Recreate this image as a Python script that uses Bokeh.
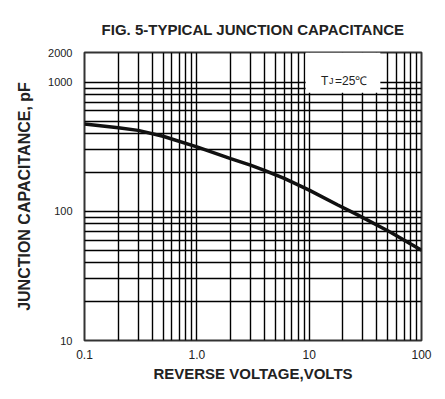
from bokeh.plotting import figure
from bokeh.models import FixedTicker, Label, BoxAnnotation, Range1d
from bokeh.embed import file_html
from bokeh.resources import INLINE

# data
voltage = [0.1, 0.2, 0.3, 0.5, 1.0, 2.0, 3.0, 4.0, 6.0, 10, 18, 27, 53, 100]
capacitance = [475, 445, 424, 382, 316, 256, 228, 208, 180, 146, 112, 94, 69, 50]

x_ticks = [0.1, 1, 10, 100]
x_tick_labels = ["0.1", "1.0", "10", "100"]
x_minor = [m * d for d in (0.1, 1, 10) for m in range(2, 10)]
y_ticks = [10, 100, 1000, 1700]
y_tick_labels = ["10", "100", "1000", "2000"]
y_minor = [m * d for d in (10, 100) for m in range(2, 10)]

FONT = "Liberation Sans"
DARK = "#222222"

p = figure(width=437, height=391, x_axis_type="log", y_axis_type="log",
           x_range=Range1d(0.1, 100), y_range=Range1d(10, 1700),
           output_backend="svg", toolbar_location=None,
           min_border_left=84, min_border_right=16, min_border_top=52, min_border_bottom=51,
           title="FIG. 5-TYPICAL JUNCTION CAPACITANCE")

p.title.align = "center"
p.title.text_font = FONT
p.title.text_font_size = "15px"
p.title.text_font_style = "bold"
p.title.text_color = DARK
p.title.standoff = 30

p.xaxis.ticker = FixedTicker(ticks=x_ticks, minor_ticks=x_minor)
p.yaxis.ticker = FixedTicker(ticks=y_ticks, minor_ticks=y_minor)
p.xaxis.major_label_overrides = {t: l for t, l in zip(x_ticks, x_tick_labels)}
p.yaxis.major_label_overrides = {t: l for t, l in zip(y_ticks, y_tick_labels)}

for ax in (p.xaxis[0], p.yaxis[0]):
    ax.major_tick_line_color = None
    ax.minor_tick_line_color = None
    ax.axis_line_color = None
    ax.major_label_text_font = FONT
    ax.major_label_text_color = DARK
    ax.axis_label_text_font = FONT
    ax.axis_label_text_font_style = "bold"
    ax.axis_label_text_color = DARK

p.xaxis.axis_label = "REVERSE VOLTAGE,VOLTS"
p.xaxis.major_label_text_font_size = "12px"
p.xaxis.axis_label_text_font_size = "15px"
p.xaxis.major_label_standoff = 3
p.xaxis.axis_label_standoff = 3
p.yaxis.axis_label = "JUNCTION CAPACITANCE, pF"
p.yaxis.major_label_text_font_size = "11px"
p.yaxis.axis_label_text_font_size = "16px"
p.yaxis.major_label_standoff = 6
p.yaxis.axis_label_standoff = 12

for g in (p.xgrid[0], p.ygrid[0]):
    g.grid_line_color = "#000000"
    g.grid_line_width = 1.4
    g.grid_line_alpha = 1
    g.minor_grid_line_color = "#000000"
    g.minor_grid_line_width = 1.4

p.outline_line_color = "#333333"
p.outline_line_width = 2
p.background_fill_color = "white"

p.line(voltage, capacitance, line_color="#111111", line_width=3.5)

p.add_layout(BoxAnnotation(left=9.3, right=43, top=1700, bottom=830,
                           fill_color="white", fill_alpha=1, line_color=None))
p.add_layout(Label(x=12, y=1030, x_offset=3, text="T", text_font=FONT, text_font_size="12px",
                   text_color=DARK, text_baseline="alphabetic"))
p.add_layout(Label(x=12, y=1030, x_offset=11, text="J", text_font=FONT, text_font_size="9px",
                   text_color=DARK, text_baseline="alphabetic"))
p.add_layout(Label(x=12, y=1030, x_offset=17, text="=25℃", text_font=FONT, text_font_size="12px",
                   text_color=DARK, text_baseline="alphabetic"))

open("out.html", "w").write(file_html(p, INLINE))
